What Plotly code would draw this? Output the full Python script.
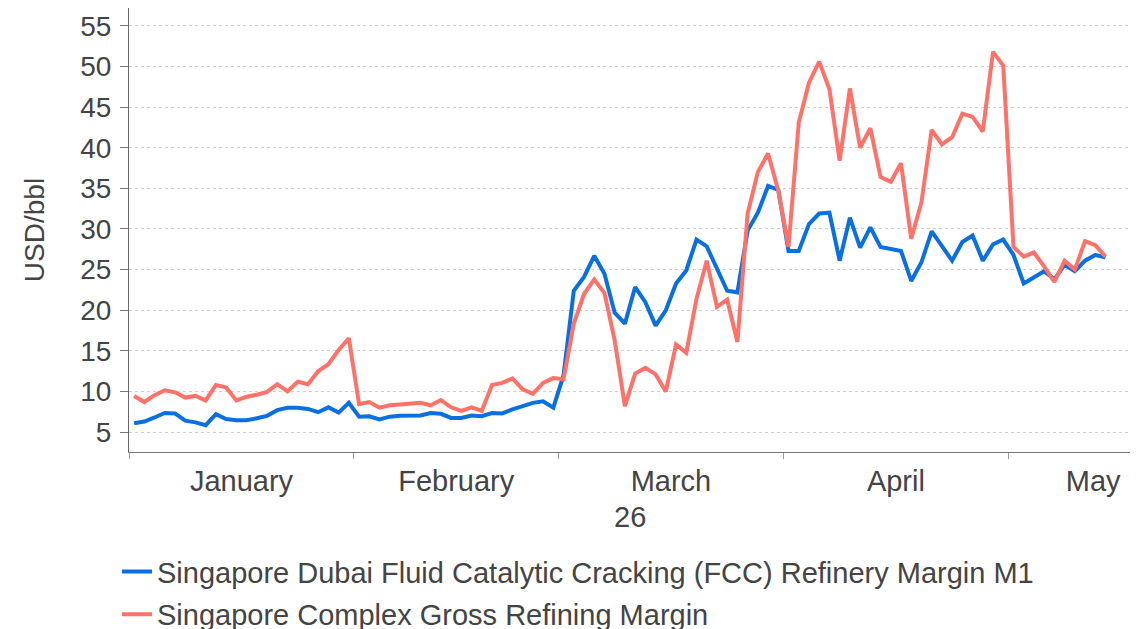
import pandas as pd
import plotly.graph_objects as go

# ---- data (weekday observations, Jan 1 2026 onward) ----
start_date = "2026-01-01"
n_points = 96
dates = pd.bdate_range(start_date, periods=n_points) + pd.Timedelta(hours=12)

fcc_margin = [
    6.1, 6.3, 6.8, 7.35, 7.3, 6.4, 6.2, 5.85, 7.2, 6.6, 6.45, 6.45, 6.7, 7.0, 7.7, 8.0,
    8.0, 7.85, 7.45, 8.05, 7.4, 8.6,
    6.9, 6.95, 6.55, 6.9, 7.0, 7.0, 7.05, 7.35, 7.25, 6.75, 6.75, 7.05, 6.95, 7.35,
    7.3, 7.8, 8.15, 8.6, 8.8, 8.0,
    12.0, 22.4, 24.1, 26.7, 24.5, 19.7, 18.35, 22.85, 21.0, 18.1, 20.0, 23.3, 24.9,
    28.7, 27.85, 25.1, 22.4, 22.2, 29.8, 32.0, 35.3, 34.8,
    27.3, 27.3, 30.6, 31.9, 32.0, 26.1, 31.4, 27.7, 30.2, 27.8, 27.6, 27.3, 23.6,
    25.9, 29.7, 28.0, 26.1, 28.4, 29.2, 26.1, 28.1, 28.7,
    26.8, 23.3, 24.0, 24.8, 23.8, 25.6, 24.8, 26.1, 26.8, 26.5,
]

complex_margin = [
    9.45, 8.7, 9.55, 10.15, 9.9, 9.25, 9.45, 8.9, 10.8, 10.5, 8.9, 9.35, 9.6, 9.95,
    10.9, 10.0, 11.2, 10.9, 12.5, 13.35, 15.1, 16.55,
    8.45, 8.7, 8.0, 8.3, 8.4, 8.45, 8.6, 8.3, 8.95, 8.05, 7.6, 8.05, 7.6, 10.8,
    11.05, 11.6, 10.25, 9.7, 11.05, 11.65,
    11.5, 18.35, 22.0, 23.8, 22.1, 16.3, 8.2, 12.2, 12.9, 12.1, 10.0, 15.8, 14.75,
    21.4, 26.1, 20.4, 21.3, 16.1, 31.9, 37.0, 39.3, 34.7,
    27.8, 43.1, 48.0, 50.6, 47.2, 38.4, 47.3, 40.0, 42.4, 36.4, 35.8, 38.1, 28.8,
    33.3, 42.2, 40.4, 41.3, 44.2, 43.8, 42.0, 51.8, 50.1,
    27.8, 26.6, 27.1, 25.4, 23.5, 26.1, 25.0, 28.5, 28.0, 26.6,
]

series_names = [
    "Singapore Dubai Fluid Catalytic Cracking (FCC) Refinery Margin M1",
    "Singapore Complex Gross Refining Margin",
]
series_colors = ["#0A70E0", "#FF7269"]

month_labels = ["January", "February", "March", "April", "May"]
month_label_pos = ["2026-01-16 00:00", "2026-02-16 00:00", "2026-03-17 00:00",
                   "2026-04-16 00:00", "2026-05-13 07:00"]
month_bounds = ["2026-01-01", "2026-02-02", "2026-03-02", "2026-04-01", "2026-05-01"]
year_label = "26"
y_ticks = [5, 10, 15, 20, 25, 30, 35, 40, 45, 50, 55]

FONT = "Liberation Sans, Arial, sans-serif"
TXT = "#444444"

fig = go.Figure()
for k, (vals, name, col) in enumerate(zip([fcc_margin, complex_margin], series_names, series_colors)):
    fig.add_trace(go.Scatter(x=dates, y=vals, mode="lines", name=name,
                             legendgroup=f"g{k}",
                             line=dict(color=col, width=4)))

fig.update_layout(
    width=1145, height=629,
    margin=dict(l=121, r=23, t=0, b=185, autoexpand=False),
    paper_bgcolor="white", plot_bgcolor="white",
    font=dict(family=FONT, color=TXT, size=28),
    showlegend=True,
    legend=dict(orientation="v", x=-0.012, xanchor="left", y=-0.212, yanchor="top",
                font=dict(size=29, color=TXT), bgcolor="rgba(0,0,0,0)",
                traceorder="grouped", tracegroupgap=2),
    annotations=[dict(text=year_label, x=0.5, xref="paper", y=-0.146, yref="paper",
                      xanchor="center", yanchor="middle", showarrow=False,
                      font=dict(size=29, color=TXT, family=FONT))],
)

fig.update_xaxes(
    type="date",
    automargin=False,
    range=["2026-01-01 00:00", "2026-05-18 21:30"],
    rangebreaks=[dict(bounds=["sat", "mon"])],
    tickmode="array", tickvals=month_label_pos, ticktext=month_labels,
    ticks="", tickfont=dict(size=29, color=TXT),
    showline=True, linecolor="#777777", linewidth=1,
    showgrid=False, zeroline=False,
    minor=dict(tickmode="array", tickvals=month_bounds, ticks="outside",
               ticklen=6, tickcolor="#999999", tickwidth=1, showgrid=False),
    ticklabelstandoff=3,
)

fig.update_yaxes(
    automargin=False,
    range=[2.55, 57.2],
    tickmode="array", tickvals=y_ticks,
    ticks="outside", ticklen=8, tickcolor="#777777", tickwidth=1,
    tickfont=dict(size=28, color=TXT),
    showline=True, linecolor="#666666", linewidth=1,
    showgrid=True, gridcolor="#C9D2D8", gridwidth=1, griddash="dot",
    zeroline=False,
    title=dict(text="USD/bbl", font=dict(size=28, color=TXT), standoff=27),
    ticklabelstandoff=3,
)

fig.write_html("out.html")
